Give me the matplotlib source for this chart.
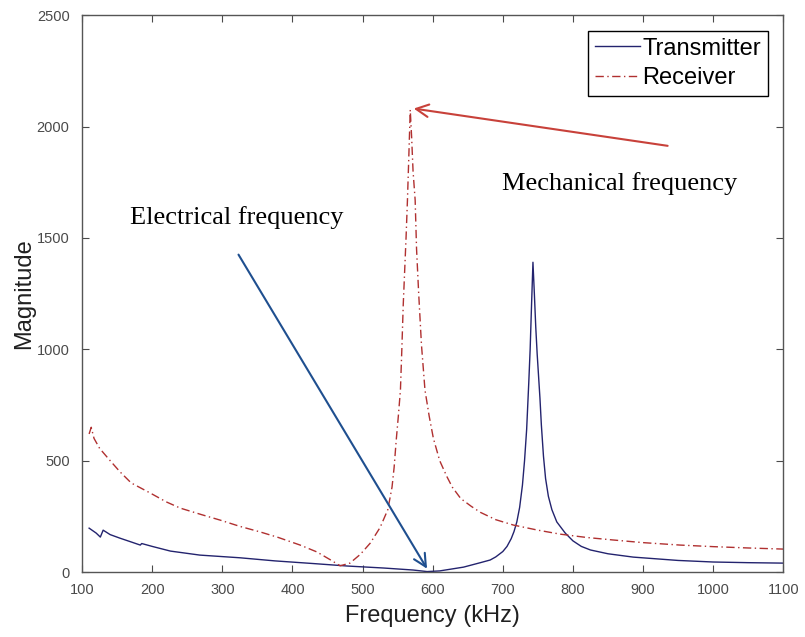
import matplotlib
matplotlib.use("Agg")
import matplotlib.pyplot as plt

# Receiver (dash-dot, red)
rx_f = [110, 113, 117, 125, 140, 154, 170, 197, 220, 240, 270, 297, 325, 354, 380, 411,
        435, 454, 468, 482, 497, 511, 525, 536, 542, 545, 548, 551, 554, 556, 558, 560,
        562, 564, 566, 568, 570, 572, 575, 577, 580, 584, 589, 595, 601, 610, 620, 628,
        640, 655, 668, 690, 715, 750, 782, 820, 857, 900, 953, 1000, 1050, 1100]
rx_m = [620, 650, 600, 555, 500, 450, 400, 355, 315, 287, 258, 233, 205, 180, 155, 121,
        90, 55, 28, 40, 80, 130, 200, 280, 381, 470, 592, 700, 817, 1000, 1200, 1350,
        1500, 1670, 1870, 2075, 1950, 1800, 1670, 1450, 1252, 1020, 817, 700, 600, 500, 430, 381,
        330, 295, 268, 235, 211, 188, 170, 155, 144, 132, 121, 114, 108, 103]

# Transmitter (solid, navy)
tx_f = [110, 120, 126, 130, 140, 154, 170, 183, 185, 200, 226, 268, 325, 375, 430, 478,
        530, 572, 592, 610, 644, 668, 682, 690, 700, 706, 712, 716, 720, 724, 728, 731,
        734, 737, 739, 741, 743, 745, 747, 749, 751, 753, 755, 758, 761, 765, 770, 777,
        789, 800, 812, 825, 850, 886, 950, 1000, 1050, 1100]
tx_m = [197, 175, 157, 188, 168, 152, 135, 121, 128, 115, 94, 76, 64, 50, 38, 27,
        18, 9, 2, 5, 22, 42, 54, 68, 92, 115, 150, 182, 225, 290, 390, 500,
        640, 848, 1000, 1200, 1391, 1250, 1100, 980, 880, 780, 660, 520, 420, 340, 280, 225,
        175, 140, 115, 99, 82, 67, 52, 45, 42, 40]

x_ticks = [100, 200, 300, 400, 500, 600, 700, 800, 900, 1000, 1100]
y_ticks = [0, 500, 1000, 1500, 2000, 2500]

fig = plt.figure(figsize=(8.05, 6.37), dpi=100)
ax = fig.add_axes([0.102, 0.102, 0.871, 0.874])

ax.plot(tx_f, tx_m, color="#23236e", lw=1.0, label="Transmitter")
ax.plot(rx_f, rx_m, color="#b03030", lw=1.0, ls=(0, (6, 2.5, 1, 2.5)), label="Receiver")

ax.set_xlim(100, 1100)
ax.set_ylim(0, 2500)
ax.set_xticks(x_ticks)
ax.set_yticks(y_ticks)
ax.tick_params(direction="in", top=True, right=True, length=5, width=0.8,
               labelsize=10.5, colors="#4a4a4a", labelcolor="#4a4a4a")
ax.tick_params(axis="x", pad=8)
ax.tick_params(axis="y", pad=9)
for lab in ax.get_xticklabels() + ax.get_yticklabels():
    lab.set_family("Liberation Sans")
for s in ax.spines.values():
    s.set_color("#555555")
    s.set_linewidth(1.0)

ax.set_xlabel("Frequency (kHz)", fontsize=17, family="Liberation Sans", color="#202020", labelpad=6)
ax.set_ylabel("Magnitude", fontsize=17, family="Liberation Sans", color="#202020", labelpad=1)

leg = ax.legend(loc="upper right", prop={"family": "Liberation Sans", "size": 17},
                frameon=True, fancybox=False, edgecolor="black", framealpha=1,
                handlelength=1.9, handletextpad=0.1, borderpad=0.3, labelspacing=0.3,
                borderaxespad=0.65)
leg.get_frame().set_linewidth(1.0)

# Annotation arrows
ax.annotate("", xy=(569, 2083), xytext=(939, 1912),
            arrowprops=dict(arrowstyle="->,head_length=0.9,head_width=0.45", color="#c8413a", lw=1.5))
ax.annotate("", xy=(594, 4), xytext=(321, 1436),
            arrowprops=dict(arrowstyle="->,head_length=0.9,head_width=0.45", color="#1f4f8f", lw=1.5))

ax.text(699, 1746, "Mechanical frequency", fontsize=19, family="Liberation Serif",
        va="center", ha="left", color="black")
ax.text(168, 1593, "Electrical frequency", fontsize=19, family="Liberation Serif",
        va="center", ha="left", color="black")

fig.savefig("out.png", dpi=100)
